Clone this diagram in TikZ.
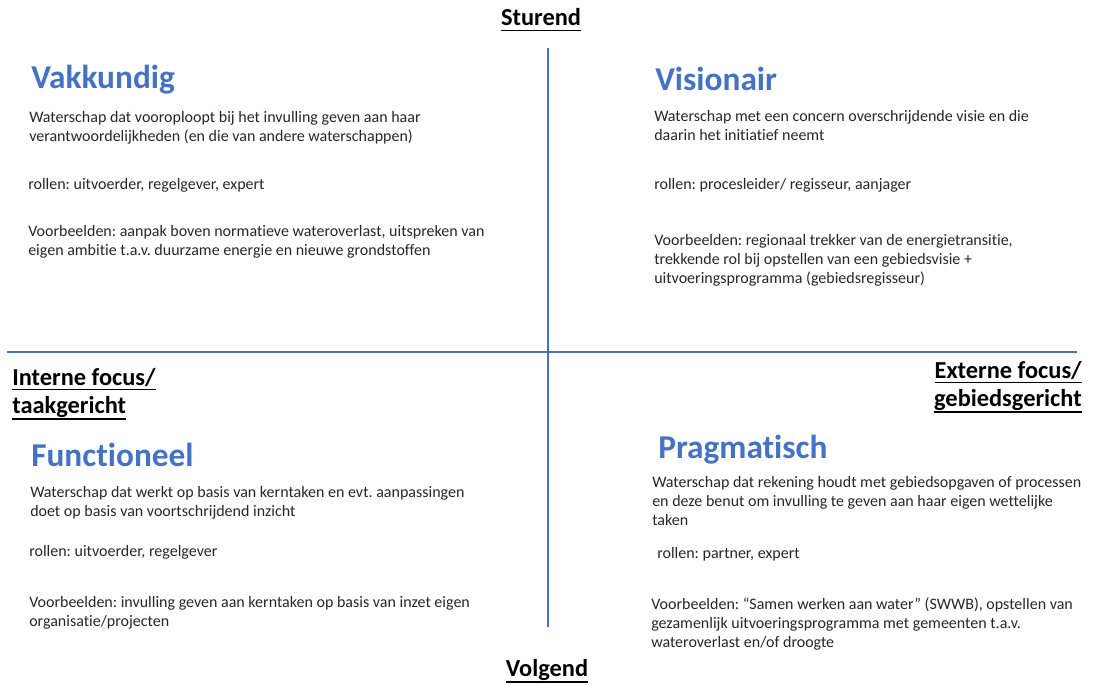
\documentclass[tikz,border=0pt]{standalone}
\usepackage{fontspec}
\setmainfont{Carlito}[Ligatures={NoCommon}]
\frenchspacing
\definecolor{kwadrantblauw}{HTML}{4472C4}
\newcommand{\streep}[1]{\setbox0=\hbox{#1}\ifdim\dp0<2pt\dp0=2pt\fi\vtop{\copy0\kern1pt\hrule height 1.1pt}}
\tikzset{
  kopje/.style={anchor=base west, inner sep=0pt, text=kwadrantblauw, font=\fontsize{25}{29}\selectfont\bfseries},
  tekst/.style={anchor=base west, inner sep=0pt, align=left, text=black!85, font=\fontsize{12}{14.25}\selectfont},
  aslabel/.style={inner sep=0pt, font=\fontsize{18.3}{21}\selectfont\bfseries},
  aslijn/.style={kwadrantblauw, line width=1.9pt}
}

\begin{document}
\begin{tikzpicture}[x=0.75pt, y=-0.75pt]
\useasboundingbox (0,0) rectangle (1095,685);

\coordinate (boven) at (548,48);
\coordinate (onder) at (548,627);
\coordinate (links) at (7,352);
\coordinate (rechts) at (1077,352);
\draw[aslijn] (boven) -- (onder);
\draw[aslijn] (links) -- (rechts);

\node[aslabel, anchor=base] (sturend) at (541,26) {\streep{Sturend}};
\node[aslabel, anchor=base] (volgend) at (547,676) {\streep{Volgend}};
\node[aslabel, anchor=base west, align=left] (intern) at (12,413) {\streep{Interne focus/}\\\streep{taakgericht}};
\node[aslabel, anchor=base east, align=right] (extern) at (1082,406) {\streep{Externe focus/}\\\streep{gebiedsgericht}};

\node[kopje] (vakkundig) at (31,89) {Vakkundig};
\node[tekst] (vakkundigtekst) at (29,141) {Waterschap dat vooroploopt bij het invulling geven aan haar\\verantwoordelijkheden (en die van andere waterschappen)};
\node[tekst] (vakkundigrol) at (28,189) {rollen: uitvoerder, regelgever, expert};
\node[tekst] (vakkundigvb) at (28,255) {Voorbeelden: aanpak boven normatieve wateroverlast, uitspreken van\\eigen ambitie t.a.v. duurzame energie en nieuwe grondstoffen};

\node[kopje] (visionair) at (655,90) {Visionair};
\node[tekst] (visionairtekst) at (654,140) {Waterschap met een concern overschrijdende visie en die\\daarin het initiatief neemt};
\node[tekst] (visionairrol) at (654,189) {rollen: procesleider/ regisseur, aanjager};
\node[tekst] (visionairvb) at (654,283) {Voorbeelden: regionaal trekker van de energietransitie,\\trekkende rol bij opstellen van een gebiedsvisie +\\uitvoeringsprogramma (gebiedsregisseur)};

\node[kopje] (functioneel) at (31,466) {Functioneel};
\node[tekst] (functioneeltekst) at (30,516) {Waterschap dat werkt op basis van kerntaken en evt. aanpassingen\\doet op basis van voortschrijdend inzicht};
\node[tekst] (functioneelrol) at (29,556) {rollen: uitvoerder, regelgever};
\node[tekst] (functioneelvb) at (29,626) {Voorbeelden: invulling geven aan kerntaken op basis van inzet eigen\\organisatie/projecten};

\node[kopje] (pragmatisch) at (658,458) {Pragmatisch};
\node[tekst] (pragmatischtekst) at (652,525) {Waterschap dat rekening houdt met gebiedsopgaven of processen\\en deze benut om invulling te geven aan haar eigen wettelijke\\taken};
\node[tekst] (pragmatischrol) at (657,558) {rollen: partner, expert};
\node[tekst] (pragmatischvb) at (651,647) {Voorbeelden: “Samen werken aan water” (SWWB), opstellen van\\gezamenlijk uitvoeringsprogramma met gemeenten t.a.v.\\wateroverlast en/of droogte};
\end{tikzpicture}
\end{document}
